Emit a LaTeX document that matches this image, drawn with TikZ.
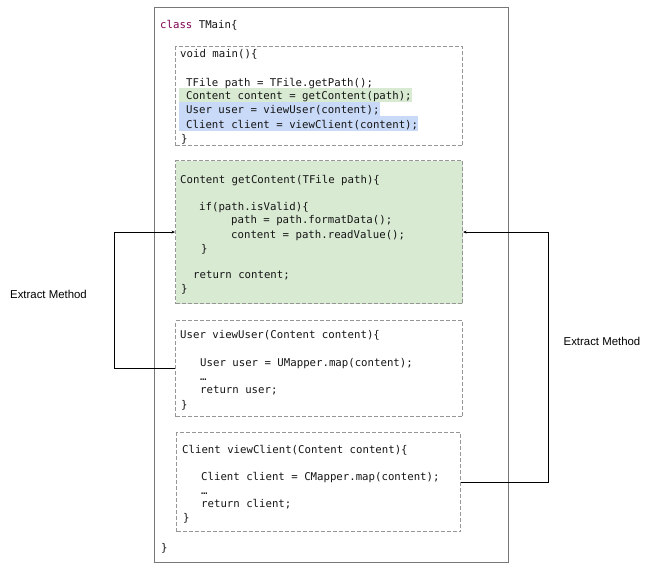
\documentclass[tikz,border=0pt]{standalone}
\usepackage{fontspec}
\setmainfont{Liberation Sans}
\newfontfamily\codefont{DejaVu Sans Mono}
\usetikzlibrary{arrows.meta}
\definecolor{kw}{RGB}{127,0,85}
\definecolor{greenfill}{RGB}{217,234,211}
\definecolor{bluefill}{RGB}{201,218,248}
\definecolor{dashgray}{RGB}{150,150,150}
\definecolor{framegray}{RGB}{120,120,120}
\definecolor{codeink}{RGB}{20,20,20}
\begin{document}
\begin{tikzpicture}[x=1pt,y=-1pt,
  code/.style={anchor=base west, inner sep=0pt, text=codeink, font=\codefont\fontsize{10.7}{12}\selectfont},
  label/.style={inner sep=0pt, font=\fontsize{11.4}{13}\selectfont},
  methodbox/.style={draw=dashgray, dash pattern=on 4pt off 2pt, line width=1.1pt, anchor=north west, inner sep=0pt},
  connector/.style={draw=black, line width=0.7pt},
  tip/.style={-{Stealth[length=3.5pt,width=3pt]}}]
\useasboundingbox (0,0) rectangle (662,568);

% outer class frame
\node[draw=framegray, line width=0.8pt, anchor=north west, inner sep=0pt,
      minimum width=354pt, minimum height=555pt] (cls) at (154,7) {};

% method boxes
\node[methodbox, minimum width=287pt, minimum height=99pt] (mainbox) at (175,46) {};
\node[methodbox, fill=greenfill, minimum width=287pt, minimum height=143pt] (getc) at (175,160) {};
\node[methodbox, minimum width=287pt, minimum height=96pt] (userbox) at (175,320) {};
\node[methodbox, minimum width=284pt, minimum height=99pt] (clientbox) at (176,432) {};

% highlights in main()
\fill[greenfill] (179,88) rectangle (412,102);
\fill[bluefill] (179,102) rectangle (380,116);
\fill[bluefill] (179,116) rectangle (418,131);

% class header and footer
\node[code] (t0) at (160,28) {\textcolor{kw}{class} TMain\{};
\node[code] (t99) at (161,551) {\}};

% main()
\node[code] (m1) at (180,57) {void main()\{};
\node[code] (m2) at (186,86) {TFile path = TFile.getPath();};
\node[code] (m3) at (186,99) {Content content = getContent(path);};
\node[code] (m4) at (186,113) {User user = viewUser(content);};
\node[code] (m5) at (186,128) {Client client = viewClient(content);};
\node[code] (m6) at (181,142) {\}};

% getContent
\node[code] (g1) at (180,183) {Content getContent(TFile path)\{};
\node[code] (g2) at (199,210) {if(path.isValid)\{};
\node[code] (g3) at (231,223) {path = path.formatData();};
\node[code] (g4) at (231,238) {content = path.readValue();};
\node[code] (g5) at (201,252) {\}};
\node[code] (g6) at (193,278) {return content;};
\node[code] (g7) at (181,292) {\}};

% viewUser
\node[code] (u1) at (180,338) {User viewUser(Content content)\{};
\node[code] (u2) at (200,366) {User user = UMapper.map(content);};
\node[code] (u3) at (200,380) {…};
\node[code] (u4) at (200,393) {return user;};
\node[code] (u5) at (181,408) {\}};

% viewClient
\node[code] (c1) at (182,453) {Client viewClient(Content content)\{};
\node[code] (c2) at (201,480) {Client client = CMapper.map(content);};
\node[code] (c3) at (201,494) {…};
\node[code] (c4) at (201,507) {return client;};
\node[code] (c5) at (183,521) {\}};

% connectors
\coordinate (lx) at (114,0);
\coordinate (rx) at (548,0);
\draw[connector, tip] (userbox.west) -- (userbox.west -| lx) |- (getc.west);
\draw[connector, tip] (clientbox.east) -- (clientbox.east -| rx) |- (getc.east);

% labels
\node[label] (lab1) at (48.5,294) {Extract Method};
\node[label] (lab2) at (602,341) {Extract Method};
\end{tikzpicture}
\end{document}
